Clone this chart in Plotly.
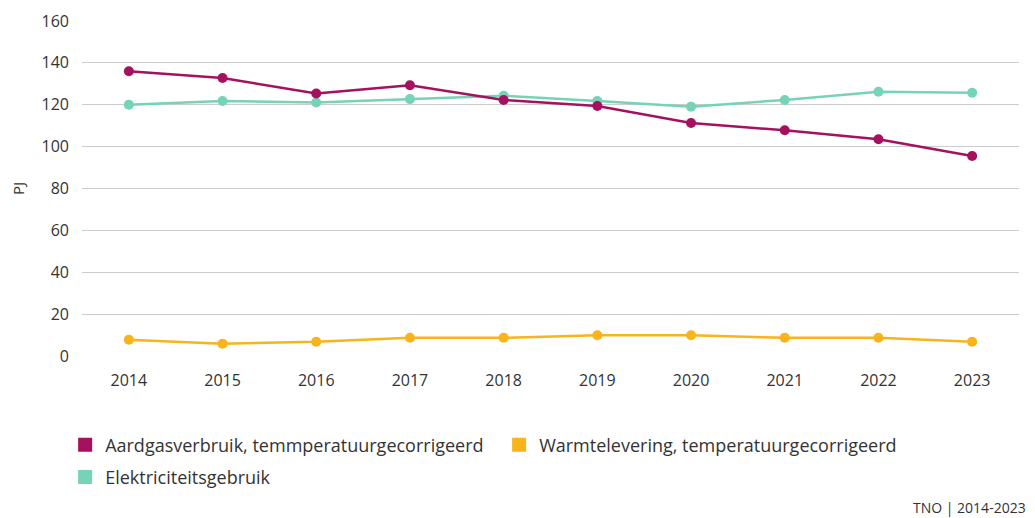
import plotly.graph_objects as go

years = ["2014", "2015", "2016", "2017", "2018", "2019", "2020", "2021", "2022", "2023"]
aardgas = [136.0, 132.8, 125.4, 129.3, 122.3, 119.4, 111.3, 107.8, 103.5, 95.5]
warmte = [7.8, 5.9, 6.8, 8.7, 8.7, 9.9, 9.9, 8.7, 8.7, 6.8]
elektriciteit = [120.0, 121.8, 121.1, 122.7, 124.3, 121.8, 119.1, 122.3, 126.2, 125.7]

names = ["Aardgasverbruik, temmperatuurgecorrigeerd",
         "Warmtelevering, temperatuurgecorrigeerd",
         "Elektriciteitsgebruik"]
colors = ["#A5115E", "#F9B31B", "#76D3B8"]
series = [aardgas, warmte, elektriciteit]
legend_ids = ["legend", "legend", "legend2"]

FONT = "Open Sans"
fig = go.Figure()
# draw order: warmte, elektriciteit, aardgas on top
for idx in [1, 2, 0]:
    fig.add_trace(go.Scatter(
        x=years, y=series[idx], mode="lines+markers", name=names[idx],
        line=dict(color=colors[idx], width=2.5),
        marker=dict(color=colors[idx], size=10),
        showlegend=False, hoverinfo="x+y+name"))
for idx in [0, 1, 2]:
    fig.add_trace(go.Scatter(
        x=[None], y=[None], mode="markers", name=names[idx],
        marker=dict(color=colors[idx], size=14, symbol="square"),
        showlegend=True, legend=legend_ids[idx]))

legend_common = dict(orientation="h", xanchor="left", yanchor="middle",
                     entrywidth=389, entrywidthmode="pixels",
                     font=dict(size=18, color="#333333"), traceorder="normal",
                     bgcolor="rgba(0,0,0,0)")

fig.update_layout(
    width=1035, height=518,
    margin=dict(l=74, r=24, t=13, b=170, autoexpand=False),
    paper_bgcolor="white", plot_bgcolor="white",
    font=dict(family=FONT, size=16, color="#333333"),
    xaxis=dict(type="category", range=[-0.5, 9.5], showgrid=False, showline=False,
               zeroline=False, automargin=False,
               ticks="", ticklabelstandoff=13, tickfont=dict(size=16, color="#333333")),
    yaxis=dict(range=[0, 160], dtick=20, showgrid=True, gridcolor="#CCCCCC", gridwidth=1,
               zeroline=False, showline=False, ticks="", ticklabelstandoff=12,
               automargin=False,
               tickfont=dict(size=16, color="#333333"),
               title=dict(text="PJ", font=dict(size=15, color="#333333"), standoff=21)),
    legend=dict(x=-0.018, y=-0.266, **legend_common),
    legend2=dict(x=-0.018, y=-0.362, **legend_common),
    annotations=[dict(text="TNO | 2014-2023", xref="paper", yref="paper",
                      x=1.0, xanchor="right", y=-0.4537, yanchor="middle",
                      xshift=9, showarrow=False, font=dict(size=14, color="#333333"))],
    showlegend=True,
)
fig.write_html("out.html")
